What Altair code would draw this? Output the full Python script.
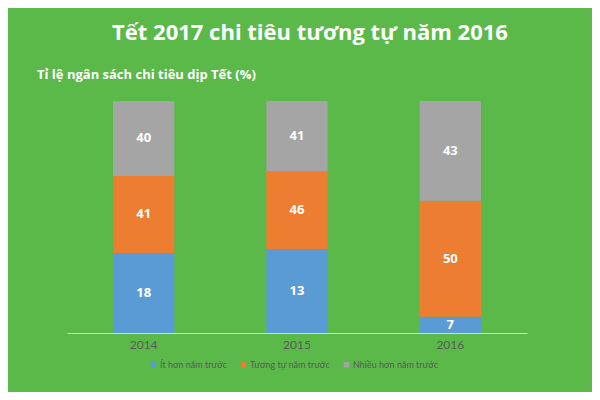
import altair as alt
import pandas as pd

years = ["2014", "2015", "2016"]
series = ["Ít hơn năm trước", "Tương tự năm trước", "Nhiều hơn năm trước"]
colors = ["#5B9BD5", "#ED7D31", "#A5A5A5"]
# bar segment heights as drawn in the picture (percent of the 0-100 scale)
less_drawn = [34.5, 36.2, 7]
same_drawn = [33.2, 33.6, 50]
more_drawn = [32.3, 30.2, 43]
# data labels printed on the segments
less_label = [18, 13, 7]
same_label = [41, 46, 50]
more_label = [40, 41, 43]

title_text = "Tết 2017 chi tiêu tương tự năm 2016"
subtitle_text = "Tỉ lệ ngân sách chi tiêu dịp Tết (%)"

rows = []
for i, y in enumerate(years):
    for k, (s, d, l) in enumerate(zip(series, [less_drawn, same_drawn, more_drawn],
                                      [less_label, same_label, more_label])):
        rows.append({"year": y, "series": s, "order": k, "value": d[i], "label": str(l[i])})
df = pd.DataFrame(rows)

base = alt.Chart(df).transform_stack(
    stack="value", groupby=["year"], as_=["y0", "y1"], sort=[{"field": "order", "order": "ascending"}]
).transform_calculate(mid="(datum.y0 + datum.y1) / 2")

xenc = alt.X("year:N", title=None, sort=years,
             scale=alt.Scale(paddingInner=0.6, paddingOuter=0.3),
             axis=alt.Axis(labelAngle=0, ticks=False, domainColor="#D9D9D9", domainWidth=1,
                           labelColor="#595959", labelFont="Lato", labelFontSize=12,
                           labelPadding=6, grid=False))
yscale = alt.Scale(domain=[0, 100], nice=False)

bars = base.mark_bar().encode(
    x=xenc,
    y=alt.Y("y0:Q", scale=yscale, axis=None),
    y2="y1:Q",
    color=alt.Color("series:N", sort=series,
                    scale=alt.Scale(domain=series, range=colors),
                    legend=alt.Legend(title=None, orient="none", direction="horizontal",
                                      legendX=82, legendY=259, symbolType="square",
                                      symbolSize=30, symbolStrokeWidth=0,
                                      labelFont="Lato", labelFontSize=9,
                                      labelColor="#595959", columnPadding=12,
                                      labelOffset=2)),
)

labels = base.mark_text(color="white", fontWeight="bold", font="Open Sans", fontSize=13,
                        baseline="middle").encode(
    x=alt.X("year:N", sort=years),
    y=alt.Y("mid:Q", scale=yscale),
    text="label:N",
)

title = alt.Chart(pd.DataFrame({"t": [title_text]})).mark_text(
    color="white", fontWeight="bold", font="Open Sans", fontSize=22, align="center", baseline="middle"
).encode(text="t:N", x=alt.value(243), y=alt.value(-68))

subtitle = alt.Chart(pd.DataFrame({"t": [subtitle_text]})).mark_text(
    color="white", fontWeight="bold", font="Open Sans", fontSize=13, align="left", baseline="middle"
).encode(text="t:N", x=alt.value(-30), y=alt.value(-26))

chart = alt.layer(bars, labels, title, subtitle).properties(
    width=460, height=232, background="#5BB94A",
    padding={"left": 59, "top": 93, "right": 65, "bottom": 59},
    autosize=alt.AutoSizeParams(type="none"),
).configure_view(stroke=None)

chart.save("out.html", embed_options={"renderer": "svg", "actions": False})
